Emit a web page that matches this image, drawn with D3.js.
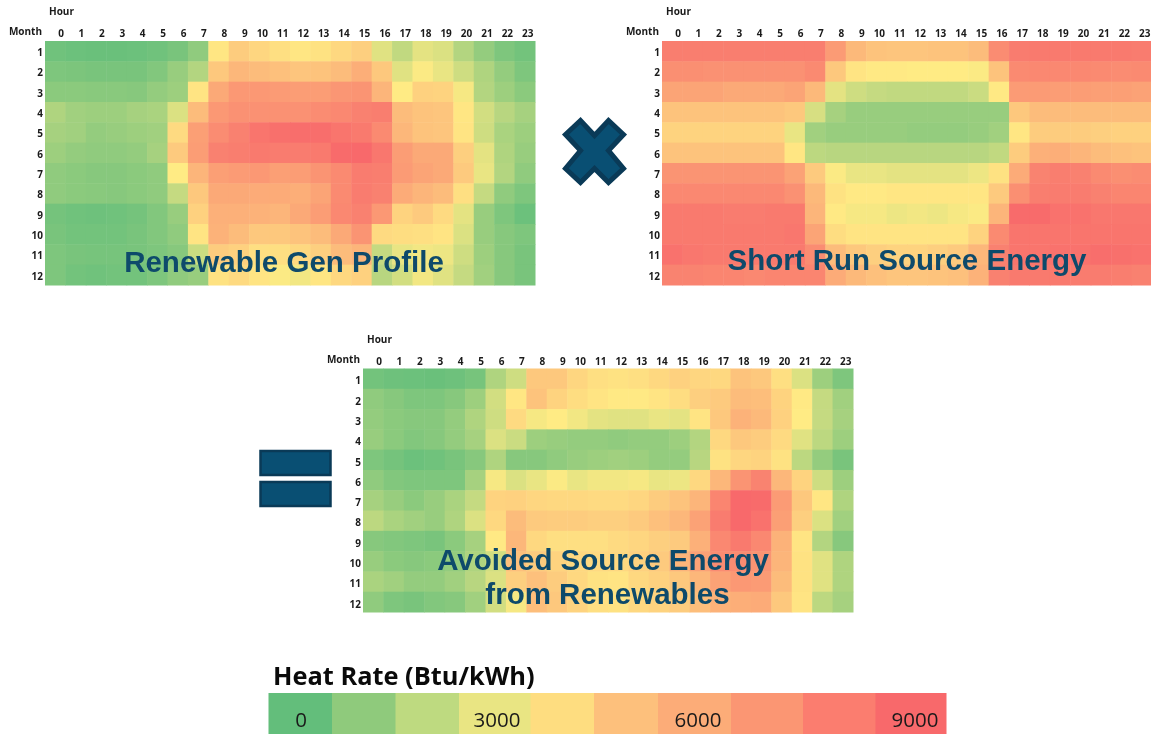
<!DOCTYPE html>
<html>
<head>
<meta charset="utf-8">
<script src="https://cdnjs.cloudflare.com/ajax/libs/d3/7.8.5/d3.min.js"></script>
<style>
html,body{margin:0;padding:0;background:#fff;overflow:hidden}
svg{display:block;filter:blur(0.35px)}
.tick text,.lab{font-family:"Open Sans","Noto Sans",sans-serif;font-weight:700;font-size:10px;fill:#1a1a1a}
.ov{font-family:"Liberation Sans",Arial,sans-serif;font-weight:700;fill:#0E4A6B}
</style>
</head>
<body>
<div id="chart"></div>
<script>
const hours = d3.range(0, 24);
const months = d3.range(1, 13);

const renewableGen = [
[300,200,150,150,200,300,500,1000,3700,4800,4400,4000,3700,3900,4300,4700,2800,2100,2900,2700,1800,1100,600,350],
[600,550,500,500,500,700,1200,1800,5000,5700,5500,5300,5100,5200,5500,6100,5000,2800,3400,3000,2400,1700,1100,600],
[900,900,850,850,800,1100,1300,3800,6300,7000,7000,6900,6800,6800,7100,7200,5800,3500,4600,4500,3300,1800,1300,900],
[1700,1400,1300,1300,1500,1600,2700,5500,7000,7300,7300,7300,7300,7500,7700,8000,8100,5500,5200,5100,3700,2500,1900,1500],
[1500,1400,1100,1200,1300,1400,4200,6700,7500,8000,8500,8700,8800,8800,8500,8300,7600,5700,5200,5100,3800,2400,1600,1300],
[1300,1100,1000,1000,1100,1500,4900,6800,8000,8100,8300,8200,8200,8300,8900,9000,8400,6800,6300,6300,4700,2900,1700,1200],
[1000,900,800,800,900,1000,3500,5800,6700,6900,7000,6700,6800,7200,7600,8200,8100,6900,6500,6300,4900,3000,1800,1000],
[1000,900,850,800,900,1000,2200,5000,6300,6300,6200,6200,6100,6500,7600,8200,8000,6200,5800,5500,4000,2200,1000,600],
[400,300,250,300,400,700,1200,4600,6000,6000,5900,5800,6300,6800,7700,8000,7000,4500,4900,4200,2900,1200,600,200],
[500,350,350,350,500,700,1000,3800,5900,5500,5000,5000,5200,5500,6300,7200,4200,4100,4000,3800,2700,1200,800,600],
[600,500,450,450,500,600,800,2300,4800,4600,4000,4000,4300,4700,5500,5800,2200,3000,3200,3100,2400,1300,800,500],
[600,350,300,350,350,600,1000,1200,3900,4200,3800,3400,3200,3700,4300,4600,1900,2500,3200,2800,2200,1400,800,500]
];

const shortRunSource = [
[8100,8100,8100,8100,8100,8100,8100,8100,6900,5600,5200,5100,5100,5200,5200,5500,7500,8200,8300,8300,8300,8300,8300,8200],
[7400,7400,7300,7300,7300,7300,7300,7600,5000,3800,3600,3600,3500,3500,3500,3400,5200,7600,7700,7700,7700,7600,7500,7600],
[6500,6500,6500,6300,6300,6300,6500,5600,2900,2400,2200,2100,2100,2100,2100,2300,3600,6900,6900,6800,6800,6700,6700,6600],
[5200,5200,5200,5200,5200,5200,5000,2600,1500,1200,1200,1200,1200,1200,1200,1200,1200,5000,5500,5500,5500,5500,5500,5500],
[4500,4500,4500,4500,4500,4500,3000,1400,1200,1200,1200,1200,1100,1100,1100,1200,1400,3700,4800,4800,4800,4700,4600,4600],
[5200,5200,5200,5200,5200,5200,3700,2000,1900,1900,1900,1900,1900,1900,1900,1900,2100,4800,6000,6100,5800,5500,5300,5200],
[7200,7200,7200,7200,7200,7200,6600,4900,3400,3000,3000,2900,2900,2900,2900,3100,3900,6200,7900,8100,8000,7600,7400,7500],
[7700,7700,7700,7700,7700,7700,7300,5600,3900,3600,3600,3700,3700,3700,3700,3700,4900,7400,8100,8200,8200,8000,7800,7800],
[8300,8300,8300,8200,8200,8300,8300,5800,3600,3300,3300,3100,3200,3100,3300,3400,5800,8900,8900,8600,8600,8400,8400,8400],
[8300,8300,8300,8300,8300,8300,8400,6500,4100,3800,3800,3800,3800,3800,3800,4500,7600,8500,8500,8500,8500,8500,8500,8500],
[8600,8400,8300,8300,8300,8300,8300,7500,5500,5000,4700,4500,4500,4700,4900,5700,8000,8500,8500,8600,8600,8800,8700,8600],
[7900,7900,7800,7800,7700,7800,7800,7800,6200,5600,5300,5100,5100,5200,5300,5900,8000,8300,8300,8300,8200,8200,8100,8000]
];

const avoidedSource = [
[350,250,200,150,250,450,1700,2400,5000,5000,4400,4000,3900,4000,4300,4600,4400,4300,5200,5000,4000,2700,1300,600],
[1000,800,600,600,800,1300,2500,3700,5200,4500,4100,3800,3600,3600,3800,4100,4700,4900,5500,5400,4500,3600,2200,1400],
[1100,900,800,800,1100,1700,2400,4200,3300,3500,3200,2900,2800,2800,3000,2900,3800,5000,5900,5600,4600,3500,2200,1500],
[1200,900,700,800,1100,1500,2700,2300,1300,1200,1100,1100,1000,1100,1100,1300,1800,4300,5000,4800,4200,2800,2000,1300],
[600,400,200,300,500,800,1700,800,800,1000,1200,1300,1400,1300,1100,1100,1900,3900,4400,4500,3900,2000,1100,500],
[1000,700,600,600,600,1500,3300,2700,3000,3400,3000,3200,3200,3300,3000,3100,4300,5700,7200,7900,5700,4500,2400,1300],
[1500,1200,900,1200,1600,2200,4500,4600,4400,4300,4300,4200,4200,4400,4800,5200,5800,7800,9000,8900,6900,5000,3700,1700],
[2000,1600,1400,1200,1700,2700,4300,5500,4900,4800,4800,4700,4700,4900,5300,5700,6600,8200,9000,8600,6700,4700,2700,1400],
[800,700,600,500,900,1500,3600,5700,4300,4000,4000,4000,4200,4400,4700,4900,6000,7700,8300,7700,5900,3800,1800,800],
[1200,900,800,900,1100,1700,2500,5300,4800,4500,4300,4200,4300,4600,4900,5800,6600,7500,7500,7200,5800,3900,2800,1700],
[1600,1400,1100,1100,1400,1900,2700,4700,5300,4800,4300,3900,3800,4300,4600,5000,5700,6600,7000,6900,5500,3900,2800,1700],
[1000,600,500,700,800,1400,2500,3300,5400,5000,4500,4000,3900,4300,4500,4800,5400,5900,6100,6200,5000,3800,2000,1500]
];

const legendValues = [0,1000,2000,3000,4000,5000,6000,7000,8000,9000];
const legendColors = ["#63BE7B","#8FCA7C","#BEDA80","#E9E583","#FEDD80","#FDC07C","#FCAC78","#FB9673","#FB7D6F","#F8696B"];
const legendLabels = {0:"0",3000:"3000",6000:"6000",9000:"9000"};
const legendEdges = [268.5,332,395.5,459,530.5,594,658,731,803,875.5,946];

const color = d3.scaleLinear().domain([0,3500,9000]).range(["#63BE7B","#FFEB84","#F8696B"]).clamp(true);

const svg = d3.select("#chart").append("svg").attr("width",1151).attr("height",735);

function heatmap(data, x0, y0, w, h, yShift) {
  const x = d3.scaleBand().domain(hours).range([x0, x0+w]);
  const y = d3.scaleBand().domain(months).range([y0, y0+h]);
  const g = svg.append("g");
  months.forEach((m,i)=>{
    g.selectAll(null).data(data[i]).join("rect")
      .attr("x",(d,j)=>x(hours[j])).attr("y",y(m))
      .attr("width",x.bandwidth()+0.5).attr("height",y.bandwidth()+0.5)
      .attr("fill",d=>color(d));
  });
  const ax = svg.append("g").attr("transform",`translate(${x.bandwidth()/2-1.5},${y0-4})`)
    .call(d3.axisTop(x).tickSize(0).tickPadding(0));
  ax.select(".domain").remove();
  ax.selectAll("text").attr("text-anchor","end");
  const ay = svg.append("g").attr("transform",`translate(${x0-2},${yShift})`)
    .call(d3.axisLeft(y).tickSize(0).tickPadding(0));
  ay.select(".domain").remove();
  svg.append("text").attr("class","lab").attr("x",x0+4).attr("y",y0-26).text("Hour");
  svg.append("text").attr("class","lab").attr("x",x0-3).attr("y",y0-6).attr("text-anchor","end").text("Month");
}

heatmap(renewableGen, 45, 41, 490, 244, 1.5);
heatmap(shortRunSource, 662, 41, 490, 244, 1.5);
heatmap(avoidedSource, 363, 368.5, 490, 243.5, 2.5);

function overlay(t,x,y,size){
  svg.append("text").attr("class","ov").attr("x",x).attr("y",y)
    .attr("text-anchor","middle").attr("font-size",size).text(t);
}
overlay("Renewable Gen Profile",284,271.5,29.5);
overlay("Short Run Source Energy",907,269.5,29.5);
overlay("Avoided Source Energy",603,569.5,29.5);
overlay("from Renewables",607.5,603.5,29.5);

// operators
const crossShape = [[-29,-16],[-14,-30],[0,-15],[14,-30],[29,-16],[14,0],[29,18],[14,32],[0,18],[-14,32],[-29,18],[-14,0]];
svg.append("path")
  .attr("d",d3.line()(crossShape)+"Z")
  .attr("transform","translate(594.5,150.5)")
  .attr("fill","#094F73").attr("stroke","#0A3A57").attr("stroke-width",5).attr("stroke-linejoin","miter");
[450,481].forEach(yy=>{
  svg.append("rect").attr("x",260.5).attr("y",yy+1).attr("width",70).attr("height",24)
    .attr("fill","#094F73").attr("stroke","#0A3A57").attr("stroke-width",2.5);
});

// legend
const lg = svg.append("g");
lg.selectAll("rect").data(legendValues).join("rect")
  .attr("x",(d,i)=>legendEdges[i]).attr("y",693)
  .attr("width",(d,i)=>legendEdges[i+1]-legendEdges[i]+0.5).attr("height",41)
  .attr("fill",(d,i)=>legendColors[i]);
const lblX = {0:301,3000:497,6000:698,9000:915};
lg.selectAll("text").data(legendValues.filter(d=>legendLabels[d])).join("text")
  .attr("x",d=>lblX[d]).attr("y",727).attr("text-anchor","middle")
  .attr("font-family","Open Sans").attr("font-size",20.5).attr("fill","#1a1a1a")
  .text(d=>legendLabels[d]);
svg.append("text").attr("x",273).attr("y",685)
  .attr("font-family","Open Sans").attr("font-weight",700).attr("font-size",25.4).attr("fill","#0a0a0a")
  .text("Heat Rate (Btu/kWh)");
</script>
</body>
</html>
